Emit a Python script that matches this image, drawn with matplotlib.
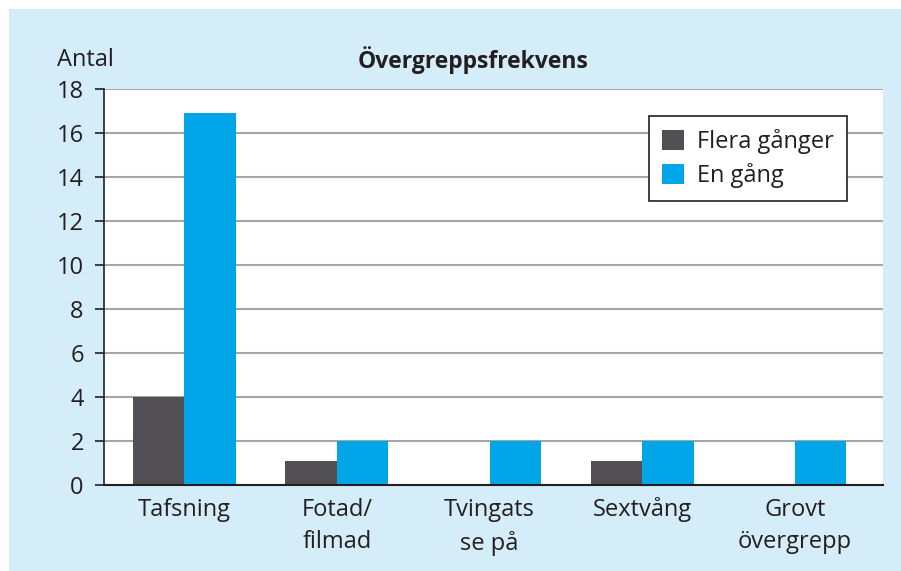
import matplotlib
matplotlib.use("Agg")
import matplotlib.pyplot as plt
import numpy as np

plt.rcParams['font.family'] = ['Open Sans', 'DejaVu Sans']

categories = ["Tafsning", "Fotad/\nfilmad", "Tvingats\nse på", "Sextvång", "Grovt\növergrepp"]
flera_ganger = [4, 1.1, 0, 1.1, 0]
en_gang = [16.9, 2, 2, 2, 2]
series_labels = ["Flera gånger", "En gång"]
yticks = [0, 2, 4, 6, 8, 10, 12, 14, 16, 18]

FS = 17
W, H = 901, 571
fig = plt.figure(figsize=(W / 100, H / 100), dpi=100)
fig.patch.set_facecolor("white")
bg = fig.add_axes([9 / W, 0, 1 - 9 / W, 1 - 9 / H], zorder=-10)
bg.set_facecolor("#d5ecf9")
bg.set_xticks([])
bg.set_yticks([])
for s in bg.spines.values():
    s.set_visible(False)

ax = fig.add_axes([104 / W, (H - 485) / H, (883 - 104) / W, (485 - 89) / H], zorder=1)
ax.set_facecolor("white")

dark = "#524f55"
blue = "#00a6e8"
x = np.arange(len(categories))
bw = 0.337
ax.bar(x - bw / 2, flera_ganger, width=bw, color=dark, label=series_labels[0], zorder=3)
ax.bar(x + bw / 2, en_gang, width=bw, color=blue, label=series_labels[1], zorder=3)

ax.set_xlim(-0.524, 4.576)
ax.set_ylim(0, 18)
ax.set_yticks(yticks)
ax.set_xticks(x)
ax.set_xticklabels(categories, fontsize=FS, color="#231f20", linespacing=1.5)
ax.tick_params(axis="x", length=0, pad=9)
ax.tick_params(axis="y", length=6.5, width=1.2, color="#231f20", labelsize=FS,
               labelcolor="#231f20", pad=8)
ax.yaxis.grid(True, color="#a6a6a6", linewidth=1.5, zorder=1)
ax.set_axisbelow(True)
for s in ["top", "right"]:
    ax.spines[s].set_visible(False)
ax.spines["left"].set_color("#231f20")
ax.spines["left"].set_linewidth(1.2)
ax.spines["bottom"].set_color("#231f20")
ax.spines["bottom"].set_linewidth(1.5)
ax.spines["bottom"].set_zorder(4)

leg = ax.legend(loc="upper right", bbox_to_anchor=((847 - 104) / 779, (485 - 116) / 396),
                fontsize=FS, frameon=True, fancybox=False, framealpha=1,
                handlelength=0.93, handleheight=0.93, handletextpad=0.55,
                borderpad=0.55, labelspacing=0.4, borderaxespad=0)
leg.get_frame().set_edgecolor("#231f20")
leg.get_frame().set_linewidth(1.2)
for t in leg.get_texts():
    t.set_color("#231f20")

fig.text(473 / W, 1 - 60 / H, "Övergreppsfrekvens", ha="center", va="center",
         fontsize=16.5, fontweight="bold", color="#231f20")
fig.text(57 / W, 1 - 60 / H, "Antal", ha="left", va="center", fontsize=FS, color="#231f20")

fig.savefig("out.png", dpi=100)
